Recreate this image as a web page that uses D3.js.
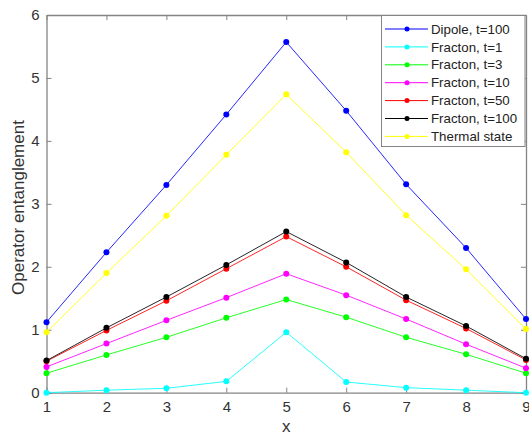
<!DOCTYPE html>
<html><head><meta charset="utf-8">
<script src="https://cdn.jsdelivr.net/npm/d3@7"></script>
<style>body{margin:0;background:#fff}svg{display:block;font-family:"Liberation Sans",Arial,sans-serif}</style>
</head><body><svg id="c" width="529" height="435"></svg>
<script>
const xs = [1,2,3,4,5,6,7,8,9];
const xTicks = [1,2,3,4,5,6,7,8,9];
const yTicks = [0,1,2,3,4,5,6];
const seriesNames = ["Dipole, t=100","Fracton, t=1","Fracton, t=3","Fracton, t=10","Fracton, t=50","Fracton, t=100","Thermal state"];
const seriesColors = ["#0000ff","#00ffff","#00ff00","#ff00ff","#ff0000","#000000","#ffff00"];
const dipole100 = [1.12,2.23,3.30,4.42,5.57,4.48,3.31,2.30,1.17];
const fracton1 = [0.00,0.04,0.07,0.18,0.96,0.17,0.08,0.04,0.00];
const fracton3 = [0.31,0.60,0.88,1.19,1.48,1.20,0.88,0.61,0.31];
const fracton10 = [0.41,0.78,1.15,1.51,1.89,1.55,1.17,0.77,0.39];
const fracton50 = [0.50,0.99,1.46,1.97,2.48,2.00,1.47,1.02,0.52];
const fracton100 = [0.51,1.03,1.52,2.03,2.56,2.07,1.52,1.06,0.54];
const thermal = [0.96,1.90,2.81,3.78,4.74,3.82,2.82,1.96,1.01];
const seriesValues = [dipole100,fracton1,fracton3,fracton10,fracton50,fracton100,thermal];

const L=46.5,R=526,T=15,B=392.7;
const svg=d3.select("#c");
const x=d3.scaleLinear().domain([1,9]).range([L,R]);
const y=d3.scaleLinear().domain([0,6]).range([B,T]);
const axisColor="#848484", textColor="#333";
const fmt=d3.format("d");

// axes
const gx=svg.append("g").attr("transform",`translate(0,${B})`).call(d3.axisBottom(x).tickValues(xTicks).tickFormat(fmt).tickSizeInner(-5).tickSizeOuter(0).tickPadding(9));
const gxt=svg.append("g").attr("transform",`translate(0,${T})`).call(d3.axisTop(x).tickValues(xTicks).tickSizeInner(-5).tickSizeOuter(0).tickFormat(""));
const gy=svg.append("g").attr("transform",`translate(${L},0)`).call(d3.axisLeft(y).tickValues(yTicks).tickFormat(fmt).tickSizeInner(-5).tickSizeOuter(0).tickPadding(7));
const gyr=svg.append("g").attr("transform",`translate(${R},0)`).call(d3.axisRight(y).tickValues(yTicks).tickSizeInner(-5).tickSizeOuter(0).tickFormat(""));
[gx,gxt,gy,gyr].forEach(g=>{
  g.selectAll("path").attr("stroke",axisColor).attr("stroke-width",1.3);
  g.selectAll("line").attr("stroke",axisColor);
  g.selectAll("text").attr("fill",textColor).attr("font-size",15).attr("font-family","Liberation Sans, Arial, sans-serif");
});

// series
const line=d3.line().x((d,i)=>x(xs[i])).y(d=>y(d));
seriesValues.forEach((vals,k)=>{
  const g=svg.append("g");
  g.append("path").datum(vals).attr("d",line).attr("fill","none").attr("stroke",seriesColors[k]).attr("stroke-width",1).attr("opacity",0.85);
  g.selectAll("circle").data(vals).join("circle").attr("cx",(d,i)=>x(xs[i])).attr("cy",d=>y(d)).attr("r",3).attr("fill",seriesColors[k]);
});

// labels
svg.append("text").attr("x",(L+R)/2).attr("y",432).attr("text-anchor","middle").attr("font-size",17).attr("fill",textColor).text("x");
svg.append("text").attr("transform",`translate(24,207.5) rotate(-90)`).attr("text-anchor","middle").attr("font-size",17).attr("fill",textColor).text("Operator entanglement");

// legend
const lg=svg.append("g");
lg.append("rect").attr("x",381.5).attr("y",15.5).attr("width",143.5).attr("height",131).attr("fill","#fff").attr("stroke",axisColor).attr("stroke-width",1);
seriesNames.forEach((n,k)=>{
  const yy=29+k*17.9;
  lg.append("line").attr("x1",385).attr("x2",428).attr("y1",yy).attr("y2",yy).attr("stroke",seriesColors[k]).attr("stroke-width",1);
  lg.append("circle").attr("cx",407).attr("cy",yy).attr("r",2.5).attr("fill",seriesColors[k]);
  lg.append("text").attr("x",431).attr("y",yy).attr("dy","0.35em").attr("font-size",13.3).attr("fill","#222").text(n);
});
</script></body></html>
